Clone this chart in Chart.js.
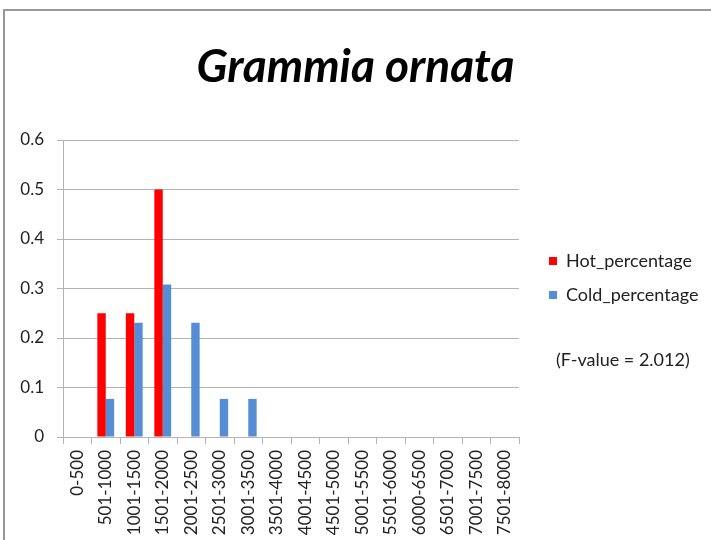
<!DOCTYPE html>
<html><head><meta charset="utf-8">
<script src="https://cdn.jsdelivr.net/npm/chart.js@4.4.1/dist/chart.umd.min.js"></script>
<style>
html,body{margin:0;padding:0;background:#fff;}
#wrap{position:relative;width:711px;height:540px;overflow:hidden;}
#frame{position:absolute;left:3px;top:9px;width:800px;height:600px;border-top:2px solid #999;border-left:2px solid #999;pointer-events:none;}
canvas{position:absolute;left:0;top:0;}
</style></head>
<body><div id="wrap"><canvas id="c" width="711" height="540"></canvas><div id="frame"></div></div>
<script>
const categories = ['0-500','501-1000','1001-1500','1501-2000','2001-2500','2501-3000','3001-3500','3501-4000','4001-4500','4501-5000','5001-5500','5501-6000','6000-6500','6501-7000','7001-7500','7501-8000'];
const hotPercentage  = [0, 0.25, 0.25, 0.5, 0, 0, 0, 0, 0, 0, 0, 0, 0, 0, 0, 0];
const coldPercentage = [0, 0.077, 0.231, 0.308, 0.231, 0.077, 0.077, 0, 0, 0, 0, 0, 0, 0, 0, 0];
const seriesNames = ['Hot_percentage', 'Cold_percentage'];
const yMin = 0, yMax = 0.6, yStep = 0.1;
const chartTitle = 'Grammia ornata';
const noteText = '(F-value = 2.012)';

const FONT = 'Lato';
const TEXT = '#222';

const tweak = {
  id: 'tweak',
  beforeLayout(chart) {
    const lg = chart.legend;
    if (lg && !lg._wrapped) {
      const orig = lg.fit;
      lg.fit = function () { orig.call(this); this.width = 192; };
      lg._wrapped = true;
    }
  },
  afterLayout(chart) {
    const lg = chart.legend;
    if (lg) {
      lg.left = 533;
      lg.top = 236;
      lg.bottom = 440;
    }
  },
  afterDraw(chart) {
    const ctx = chart.ctx;
    ctx.save();
    ctx.font = '18px ' + FONT;
    ctx.fillStyle = TEXT;
    ctx.textBaseline = 'middle';
    ctx.textAlign = 'left';
    ctx.fillText(noteText, 556, 360);
    ctx.restore();
  }
};

new Chart(document.getElementById('c'), {
  type: 'bar',
  data: {
    labels: categories,
    datasets: [
      { label: seriesNames[0], data: hotPercentage, backgroundColor: '#ff0000', borderWidth: 0 },
      { label: seriesNames[1], data: coldPercentage, backgroundColor: '#558ed5', borderWidth: 0 }
    ]
  },
  options: {
    responsive: false,
    animation: false,
    devicePixelRatio: 1,
    layout: { padding: 0 },
    datasets: { bar: { categoryPercentage: 0.59, barPercentage: 1 } },
    plugins: {
      title: {
        display: true, text: chartTitle, color: '#000',
        font: { family: FONT, size: 46, weight: 'bold', style: 'italic', lineHeight: 1.2 },
        padding: { top: 40, bottom: 44.8 }
      },
      legend: {
        position: 'right', align: 'start',
        labels: { boxWidth: 8, boxHeight: 8, padding: 16, color: TEXT, font: { family: FONT, size: 18 } }
      },
      tooltip: { enabled: false }
    },
    scales: {
      x: {
        grid: { display: true, drawOnChartArea: false, drawTicks: true, tickLength: 7, color: '#b3b3b3', offset: true },
        border: { display: true, color: '#b3b3b3' },
        ticks: { autoSkip: false, minRotation: 90, maxRotation: 90, padding: 6, color: TEXT, font: { family: FONT, size: 17 } },
        afterFit(s) { s.height = 103; }
      },
      y: {
        min: yMin, max: yMax,
        grid: { color: '#b3b3b3', tickLength: 6 },
        border: { display: true, color: '#b3b3b3' },
        ticks: { stepSize: yStep, padding: 13, color: TEXT, font: { family: FONT, size: 17 },
          callback: v => String(Math.round(v * 10) / 10) },
        afterFit(s) { s.width = 63; }
      }
    }
  },
  plugins: [tweak]
});
</script>
</body></html>
